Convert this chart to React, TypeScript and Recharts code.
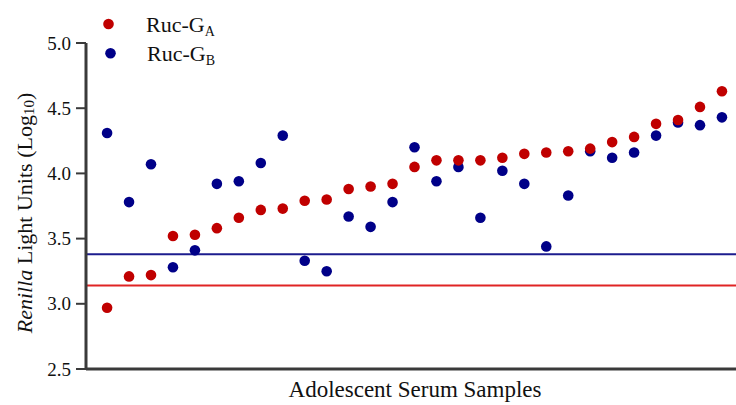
import React from 'react';
import {
    ScatterChart,
    Scatter,
    XAxis,
    YAxis,
    ReferenceLine,
} from 'recharts';

// sample number along the x axis (samples sorted by Ruc-GA signal)
const samples = [1, 2, 3, 4, 5, 6, 7, 8, 9, 10, 11, 12, 13, 14, 15, 16, 17, 18, 19, 20, 21, 22, 23, 24, 25, 26, 27, 28, 29];

// log10 Renilla light units
const rucGA = [2.97, 3.21, 3.22, 3.52, 3.53, 3.58, 3.66, 3.72, 3.73, 3.79, 3.80, 3.88, 3.90, 3.92, 4.05, 4.10, 4.10, 4.10, 4.12, 4.15, 4.16, 4.17, 4.19, 4.24, 4.28, 4.38, 4.41, 4.51, 4.63];
const rucGB = [4.31, 3.78, 4.07, 3.28, 3.41, 3.92, 3.94, 4.08, 4.29, 3.33, 3.25, 3.67, 3.59, 3.78, 4.20, 3.94, 4.05, 3.66, 4.02, 3.92, 3.44, 3.83, 4.17, 4.12, 4.16, 4.29, 4.39, 4.37, 4.43];

// cut-off lines
const cutoffGA = 3.14;
const cutoffGB = 3.38;

const yTicks = [2.5, 3.0, 3.5, 4.0, 4.5, 5.0];

const RED = '#C00000';
const BLUE = '#000088';
const FONT = '"Liberation Serif", "Times New Roman", serif';
const AXIS = '#3a3a3a';
const serif = { fontFamily: FONT };

const dataGA = samples.map((s, i) => ({ x: s, y: rucGA[i] }));
const dataGB = samples.map((s, i) => ({ x: s, y: rucGB[i] }));

const dot = (color: string) => (props: any) => (
    <circle cx={props.cx} cy={props.cy} r={5.3} fill={color} />
);

const YTick = (props: any) => {
    const { x, y, payload } = props;
    return (
        <text x={x} y={y} dy={6.5} textAnchor="end" fontSize={19} fill="#111" style={serif}>
            {Number(payload.value).toFixed(1)}
        </text>
    );
};

const YLabel = ({ viewBox }: any) => {
    const cx = 24;
    const cy = viewBox.y + viewBox.height / 2 + 7;
    return (
        <text
            x={cx}
            y={cy}
            transform={`rotate(-90 ${cx} ${cy})`}
            textAnchor="middle"
            dominantBaseline="central"
            fontSize={22}
            fill="#111"
            style={serif}
        >
            <tspan fontStyle="italic">Renilla</tspan>
            <tspan> Light Units (Log</tspan>
            <tspan fontSize={15} dy={5}>10</tspan>
            <tspan dy={-5}>)</tspan>
        </text>
    );
};

const XLabel = ({ viewBox }: any) => (
    <text
        x={viewBox.x + viewBox.width / 2 + 4}
        y={397}
        textAnchor="middle"
        fontSize={23}
        fill="#111"
        style={serif}
    >
        Adolescent Serum Samples
    </text>
);

const LegendBox = () => (
    <svg
        width={160}
        height={72}
        style={{ position: 'absolute', left: 90, top: 0, pointerEvents: 'none' }}
    >
        <circle cx={18.5} cy={24} r={5.3} fill={RED} />
        <text x={56} y={31.5} fontSize={22} fill="#111" style={serif}>
            Ruc-G<tspan fontSize={14} dy={4}>A</tspan>
        </text>
        <circle cx={20.5} cy={53.3} r={5.3} fill={BLUE} />
        <text x={57} y={61} fontSize={22} fill="#111" style={serif}>
            Ruc-G<tspan fontSize={14} dy={4}>B</tspan>
        </text>
    </svg>
);

export default function App() {
    return (
        <div style={{ position: 'absolute', left: 0, top: 0, width: 736, height: 405, background: '#fff', fontFamily: FONT }}>
            <ScatterChart
                width={736}
                height={405}
                margin={{ top: 43, right: 0, bottom: 0, left: 0 }}
            >
                <XAxis
                    type="number"
                    dataKey="x"
                    domain={[0.04, 29.64]}
                    allowDataOverflow
                    height={36}
                    tick={false}
                    tickLine={false}
                    axisLine={{ stroke: AXIS, strokeWidth: 3 }}
                    label={<XLabel />}
                />
                <YAxis
                    type="number"
                    dataKey="y"
                    domain={[2.5, 5]}
                    ticks={yTicks}
                    width={86}
                    tickSize={10}
                    tickMargin={5}
                    tick={<YTick />}
                    tickLine={{ stroke: AXIS, strokeWidth: 2 }}
                    axisLine={{ stroke: AXIS, strokeWidth: 3 }}
                    label={<YLabel />}
                />
                <ReferenceLine y={cutoffGB} stroke="#1c1c8e" strokeWidth={2} />
                <ReferenceLine y={cutoffGA} stroke="#e02424" strokeWidth={2} />
                <Scatter name="Ruc-GB" data={dataGB} fill={BLUE} shape={dot(BLUE)} isAnimationActive={false} />
                <Scatter name="Ruc-GA" data={dataGA} fill={RED} shape={dot(RED)} isAnimationActive={false} />
            </ScatterChart>
            <LegendBox />
        </div>
    );
}
